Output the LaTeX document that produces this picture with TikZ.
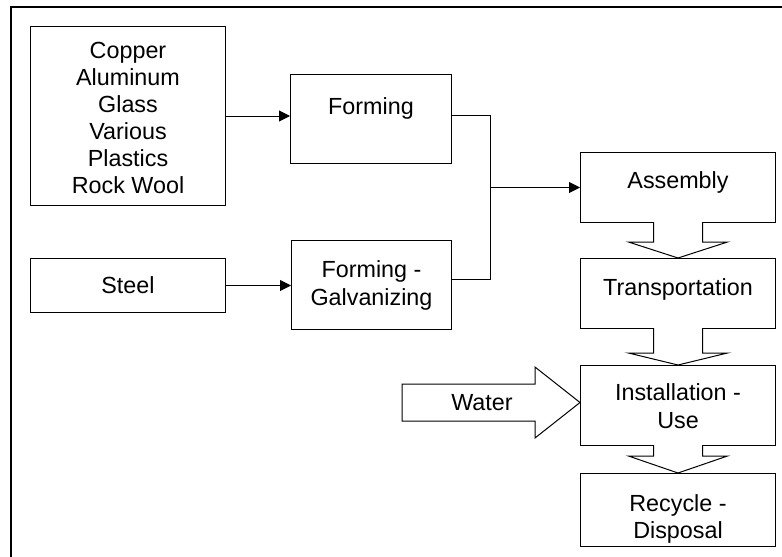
\documentclass[tikz,border=0pt]{standalone}
\usepackage{fontspec}
\setmainfont{Liberation Sans}
\usetikzlibrary{calc,arrows.meta}
\begin{document}
\begin{tikzpicture}[x=0.75pt,y=-0.75pt,
  boxd/.style={draw,line width=0.75pt,inner sep=0pt,anchor=north west},
  txt/.style={anchor=north,inner sep=0pt,align=center,font=\fontsize{17.5pt}{20.8pt}\selectfont},
  conn/.style={line width=0.75pt},
  arr/.style={conn,-{Triangle[length=8.25pt,width=8.25pt]}},
  blk/.style={draw,line width=0.75pt,fill=white,line join=miter}]
\useasboundingbox (0,0) rectangle (782,557);
% frame
\coordinate (fbl) at (11,560);
\coordinate (ftl) at (11,7);
\coordinate (ftr) at (785,7);
\draw[line width=1.5pt] (fbl) -- (ftl) -- (ftr);
% boxes
\node[boxd,minimum width=146.25pt,minimum height=134.25pt] (mat) at (30,26) {};
\node[boxd,minimum width=120.75pt,minimum height=66.75pt] (forming) at (290,74) {};
\node[boxd,minimum width=146.25pt,minimum height=40.5pt] (steel) at (30,258) {};
\node[boxd,minimum width=120pt,minimum height=66.75pt] (fg) at (291,240) {};
\node[boxd,minimum width=146.25pt,minimum height=52.5pt] (asm) at (580,152) {};
\node[boxd,minimum width=146.25pt,minimum height=52.5pt] (trn) at (580,258) {};
\node[boxd,minimum width=146.25pt,minimum height=60pt] (ins) at (580,365) {};
\node[boxd,minimum width=146.25pt,minimum height=54.75pt] (rec) at (580,473) {};
% texts
\node[txt,font=\fontsize{17.5pt}{20.25pt}\selectfont] (tmat) at ($(mat.north)+(0,15.6)$) {Copper\\Aluminum\\Glass\\Various\\Plastics\\Rock Wool};
\node[txt] (tforming) at ($(forming.north)+(0,23.6)$) {Forming};
\node[txt] (tsteel) at ($(steel.north)+(0,18.6)$) {Steel};
\node[txt] (tfg) at ($(fg.north)+(0,20.6)$) {Forming -\\Galvanizing};
\node[txt] (tasm) at ($(asm.north)+(0,19.6)$) {Assembly};
\node[txt] (ttrn) at ($(trn.north)+(0,20.6)$) {Transportation};
\node[txt] (tins) at ($(ins.north)+(0,18.6)$) {Installation -\\Use};
\node[txt] (trec) at ($(rec.north)+(0,21)$) {Recycle -\\Disposal};
% line connectors
\draw[arr] (mat.east) -- (mat.east -| forming.west);
\draw[arr] (steel.east) -- (steel.east -| fg.west);
\coordinate (bt) at ($(forming.east)+(38,-3.5)$);
\coordinate (bb) at ($(fg.east)+(38,-5.5)$);
\draw[conn] ($(forming.east)+(0,-3.5)$) -- (bt) -- (bb) -- ($(fg.east)+(0,-5.5)$);
\draw[arr] (bt |- asm.west) -- (asm.west);
% block arrows down
\draw[blk] ($(asm.south)+(-24.5,-1)$) -- ++(0,20) -- ++(-25,0) -- (trn.north) -- ($(asm.south)+(49.5,19)$) -- ++(-25,0) -- ++(0,-20);
\draw[blk] ($(trn.south)+(-24.5,-1)$) -- ++(0,25) -- ++(-25,0) -- (ins.north) -- ($(trn.south)+(49.5,24)$) -- ++(-25,0) -- ++(0,-25);
\draw[blk] ($(ins.south)+(-24.5,-1)$) -- ++(0,11) -- ++(-25,0) -- (rec.north) -- ($(ins.south)+(49.5,10)$) -- ++(-25,0) -- ++(0,-11);
% water arrow
\coordinate (wtip) at ($(ins.west)+(0,-3)$);
\draw[blk] (wtip) -- +(-45,-35.5) -- +(-45,-18.5) -- +(-178,-18.5) -- +(-178,18.5) -- +(-45,18.5) -- +(-45,35.5) -- cycle;
\node[txt] (twater) at ($(wtip)+(-98,-8.4)$) {Water};
\end{tikzpicture}
\end{document}
